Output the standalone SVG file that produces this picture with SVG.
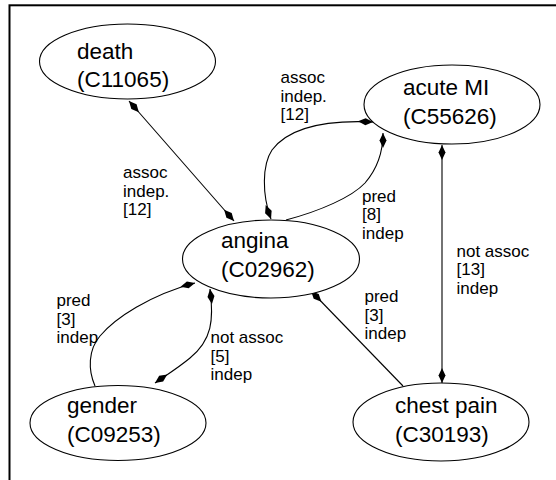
<svg xmlns="http://www.w3.org/2000/svg" width="556" height="480" viewBox="0 0 556 480">
<style>
.node ellipse{fill:#fff;stroke:#000;stroke-width:1.1}
.node text{font-family:"Liberation Sans",Arial,sans-serif;font-size:22.5px;fill:#000}
.edge path{fill:none;stroke:#000;stroke-width:1.1;}
.lbl{font-family:"Liberation Sans",Arial,sans-serif;font-size:17px;fill:#000}
.both{marker-start:url(#dia);marker-end:url(#dia)}
.head{marker-end:url(#dia)}
</style>
<defs>
<marker id="dia" markerUnits="userSpaceOnUse" markerWidth="16" markerHeight="8" viewBox="0 -4 16 8" refX="15" refY="0" orient="auto-start-reverse">
<path d="M0,0 L7.5,-3.5 L15,0 L7.5,3.5 Z" fill="#000" stroke="none"/>
</marker>
</defs>
<rect x="9.5" y="5.3" width="560" height="490" fill="none" stroke="#000" stroke-width="2"/>
<g id="edges" class="edge">
<path class="both" d="M129,101 L234,221"/>
<path class="both" d="M373,122 C330,120 290,126 272,150 C262,165 262,195 271,219"/>
<path class="head" d="M286,220 C320,211 352,197 365,183 C378,168 383,152 383,133"/>
<path class="head" d="M95,386 C88,370 88,350 100,336 C115,318 150,295 195,283"/>
<path class="both" d="M210,289 C214,320 212,340 190,358 C178,368 165,376 155,383"/>
<path class="head" d="M403,386 L311,291"/>
<path class="both" d="M442,145 L442,383"/>
</g>
<g id="labels">
<text class="lbl" x="123" y="178">assoc</text>
<text class="lbl" x="123" y="196.5">indep.</text>
<text class="lbl" x="123" y="215">[12]</text>
<text class="lbl" x="280.5" y="83">assoc</text>
<text class="lbl" x="280.5" y="101.5">indep.</text>
<text class="lbl" x="280.5" y="120">[12]</text>
<text class="lbl" x="362" y="201.5">pred</text>
<text class="lbl" x="362" y="220">[8]</text>
<text class="lbl" x="362" y="238.5">indep</text>
<text class="lbl" x="456.5" y="256.5">not assoc</text>
<text class="lbl" x="456.5" y="275">[13]</text>
<text class="lbl" x="456.5" y="293.5">indep</text>
<text class="lbl" x="56.5" y="306">pred</text>
<text class="lbl" x="56.5" y="324.5">[3]</text>
<text class="lbl" x="56.5" y="343">indep</text>
<text class="lbl" x="210.5" y="343">not assoc</text>
<text class="lbl" x="210.5" y="361.5">[5]</text>
<text class="lbl" x="210.5" y="380">indep</text>
<text class="lbl" x="364.5" y="302">pred</text>
<text class="lbl" x="364.5" y="320.5">[3]</text>
<text class="lbl" x="364.5" y="339">indep</text>
</g>
<g id="death" class="node">
<ellipse cx="127.5" cy="61.5" rx="88" ry="37.5"/>
<text x="77" y="58.5">death</text>
<text x="77" y="87">(C11065)</text>
</g>
<g id="angina" class="node">
<ellipse cx="271" cy="259" rx="88.5" ry="39"/>
<text x="221" y="248">angina</text>
<text x="221" y="276.5">(C02962)</text>
</g>
<g id="acuteMI" class="node">
<ellipse cx="452" cy="104.5" rx="88" ry="39.5"/>
<text x="403" y="95">acute MI</text>
<text x="403" y="123.5">(C55626)</text>
</g>
<g id="gender" class="node">
<ellipse cx="118" cy="423" rx="88" ry="37.5"/>
<text x="67" y="413">gender</text>
<text x="67" y="441.5">(C09253)</text>
</g>
<g id="chestpain" class="node">
<ellipse cx="441" cy="422" rx="88" ry="39"/>
<text x="395" y="413">chest pain</text>
<text x="395" y="441.5">(C30193)</text>
</g>
</svg>
